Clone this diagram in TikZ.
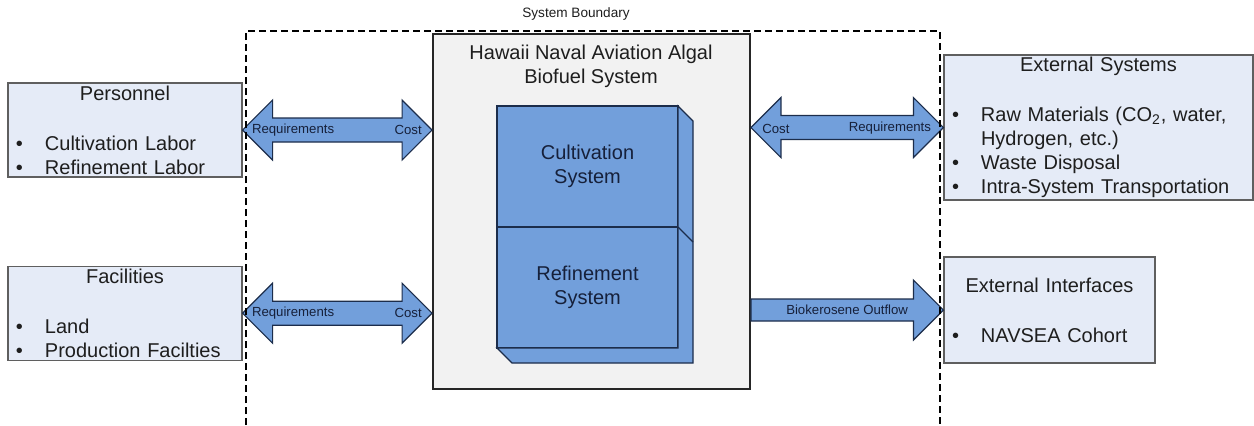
\documentclass[tikz,border=0pt]{standalone}
\usepackage{fontspec}
\setmainfont{Liberation Sans}
\usepackage{tikz}
\usetikzlibrary{positioning, calc}
\definecolor{paneFill}{RGB}{242,242,242}
\definecolor{paneLine}{RGB}{38,38,38}
\definecolor{ctxFill}{RGB}{229,235,247}
\definecolor{ctxLine}{RGB}{95,95,95}
\definecolor{algaBlue}{RGB}{114,159,219}
\definecolor{algaLine}{RGB}{28,45,75}
\definecolor{navyText}{RGB}{22,32,58}
\definecolor{inkText}{RGB}{30,30,30}
\newcommand{\bul}{\makebox[14.5pt][l]{\textbullet}}

\begin{document}
\begin{tikzpicture}[
    x=0.5pt, y=-0.5pt,
    ctx/.style={
        rectangle, draw=ctxLine, line width=0.6pt, fill=ctxFill,
        inner xsep=4pt, inner ysep=0pt, align=left,
        font=\fontsize{10}{12}\selectfont, text=inkText
    },
    panel/.style={
        rectangle, draw=paneLine, line width=0.9pt, fill=paneFill,
        minimum width=158.5pt, minimum height=177.5pt
    },
    slab/.style={
        rectangle, draw=algaLine, line width=0.6pt, fill=algaBlue,
        minimum width=90.5pt, minimum height=60.5pt, outer sep=0pt,
        align=center, font=\fontsize{10}{12}\selectfont, text=navyText
    },
    face/.style={draw=algaLine, line width=0.6pt, fill=algaBlue},
    tag/.style={inner sep=1pt, font=\fontsize{6.6}{8}\selectfont, text=navyText},
    fatboth/.style={
        draw=algaLine, line width=0.6pt, fill=algaBlue,
        to path={-- ++(30,-30) -- ++(0,18) -- ($(\tikztotarget)+(-30,-12)$)
            -- ++(0,-18) -- (\tikztotarget) -- ++(-30,30) -- ++(0,-18)
            -- ($(\tikztostart)+(30,12)$) -- ++(0,18) -- cycle}
    },
    fatone/.style={
        draw=algaLine, line width=0.6pt, fill=algaBlue,
        to path={-- ++(0,-11) -- ($(\tikztotarget)+(-30,-11)$) -- ++(0,-19)
            -- (\tikztotarget) -- ++(-30,30) -- ++(0,-19)
            -- ($(\tikztostart)+(0,11)$) -- cycle}
    },
    bound/.style={draw=black, line width=0.6pt, dash pattern=on 3.5pt off 2pt},
]
\useasboundingbox (0,0) rectangle (1254,425);

% Kontext links
\node[ctx, text width=109pt, minimum height=47pt] (personnel) at (125,130)
    {\makebox[\hsize]{Personnel}\\[13pt]\bul Cultivation Labor\\\bul Refinement Labor};
\node[ctx, text width=109pt, minimum height=47pt, below=44pt of personnel] (facilities)
    {\makebox[\hsize]{Facilities}\\[13pt]\bul Land\\\bul Production Facilties};

% System in der Mitte
\node[panel] (main) at (591.5,211.5) {};
\node[align=center, inner sep=0pt, font=\fontsize{10}{12}\selectfont, text=inkText] (mainTitle) at (591,66)
    {Hawaii Naval Aviation Algal\\Biofuel System};
\node[slab] (cultivation) at (587.5,166.5) {Cultivation\\System};
\node[slab, below=0pt of cultivation] (refinement) {Refinement\\System};
\draw[face] (cultivation.north east) -- ++(15,15) -- ([shift={(15,15)}]refinement.south east)
    -- ([shift={(15,15)}]refinement.south west) -- (refinement.south west)
    -- (refinement.south east) -- cycle;
\draw[face] (cultivation.south east) -- ++(15,15);

% Kontext rechts
\node[ctx, text width=146.5pt, minimum height=72.5pt] (extsys) at (1098.5,127.5)
    {\makebox[\hsize]{External Systems}\\[13pt]\bul Raw Materials (CO\textsubscript{2}, water,\\
     \hspace*{14.5pt}Hydrogen, etc.)\\\bul Waste Disposal\\\bul Intra-System Transportation};
\node[ctx, text width=97.5pt, minimum height=53pt] (extif) at (1049.5,310)
    {\makebox[\hsize]{External Interfaces}\\[13pt]\bul NAVSEA Cohort};

% Pfeile
\draw[fatboth] (personnel.east) to (main.west |- personnel.east);
\draw[fatboth] (facilities.east) to (main.west |- facilities.east);
\draw[fatboth] (main.east |- extsys.west) to (extsys.west);
\draw[fatone] (main.east |- extif.west) to (extif.west);

\node[tag, anchor=west] (reqPers) at ($(personnel.east)+(7,0)$) {Requirements};
\node[tag, anchor=east] (costPers) at ($(main.west |- personnel.east)+(-8,0)$) {Cost};
\node[tag, anchor=west] (reqFac) at ($(facilities.east)+(7,0)$) {Requirements};
\node[tag, anchor=east] (costFac) at ($(main.west |- facilities.east)+(-8,0)$) {Cost};
\node[tag, anchor=west] (costExt) at ($(main.east |- extsys.west)+(9,1)$) {Cost};
\node[tag, anchor=east] (reqExt) at ($(extsys.west)+(-10,1)$) {Requirements};
\node[tag] (bioLbl) at ($(main.east |- extif.west)!0.5!(extif.west)$) {Biokerosene Outflow};

% Systemgrenze
\draw[bound] (246,425) -- (246,31) -- (940,31) -- (940,425);
\node[tag, text=inkText, font=\fontsize{6.8}{8}\selectfont] (bndLbl) at (576,14) {System Boundary};

\end{tikzpicture}
\end{document}
